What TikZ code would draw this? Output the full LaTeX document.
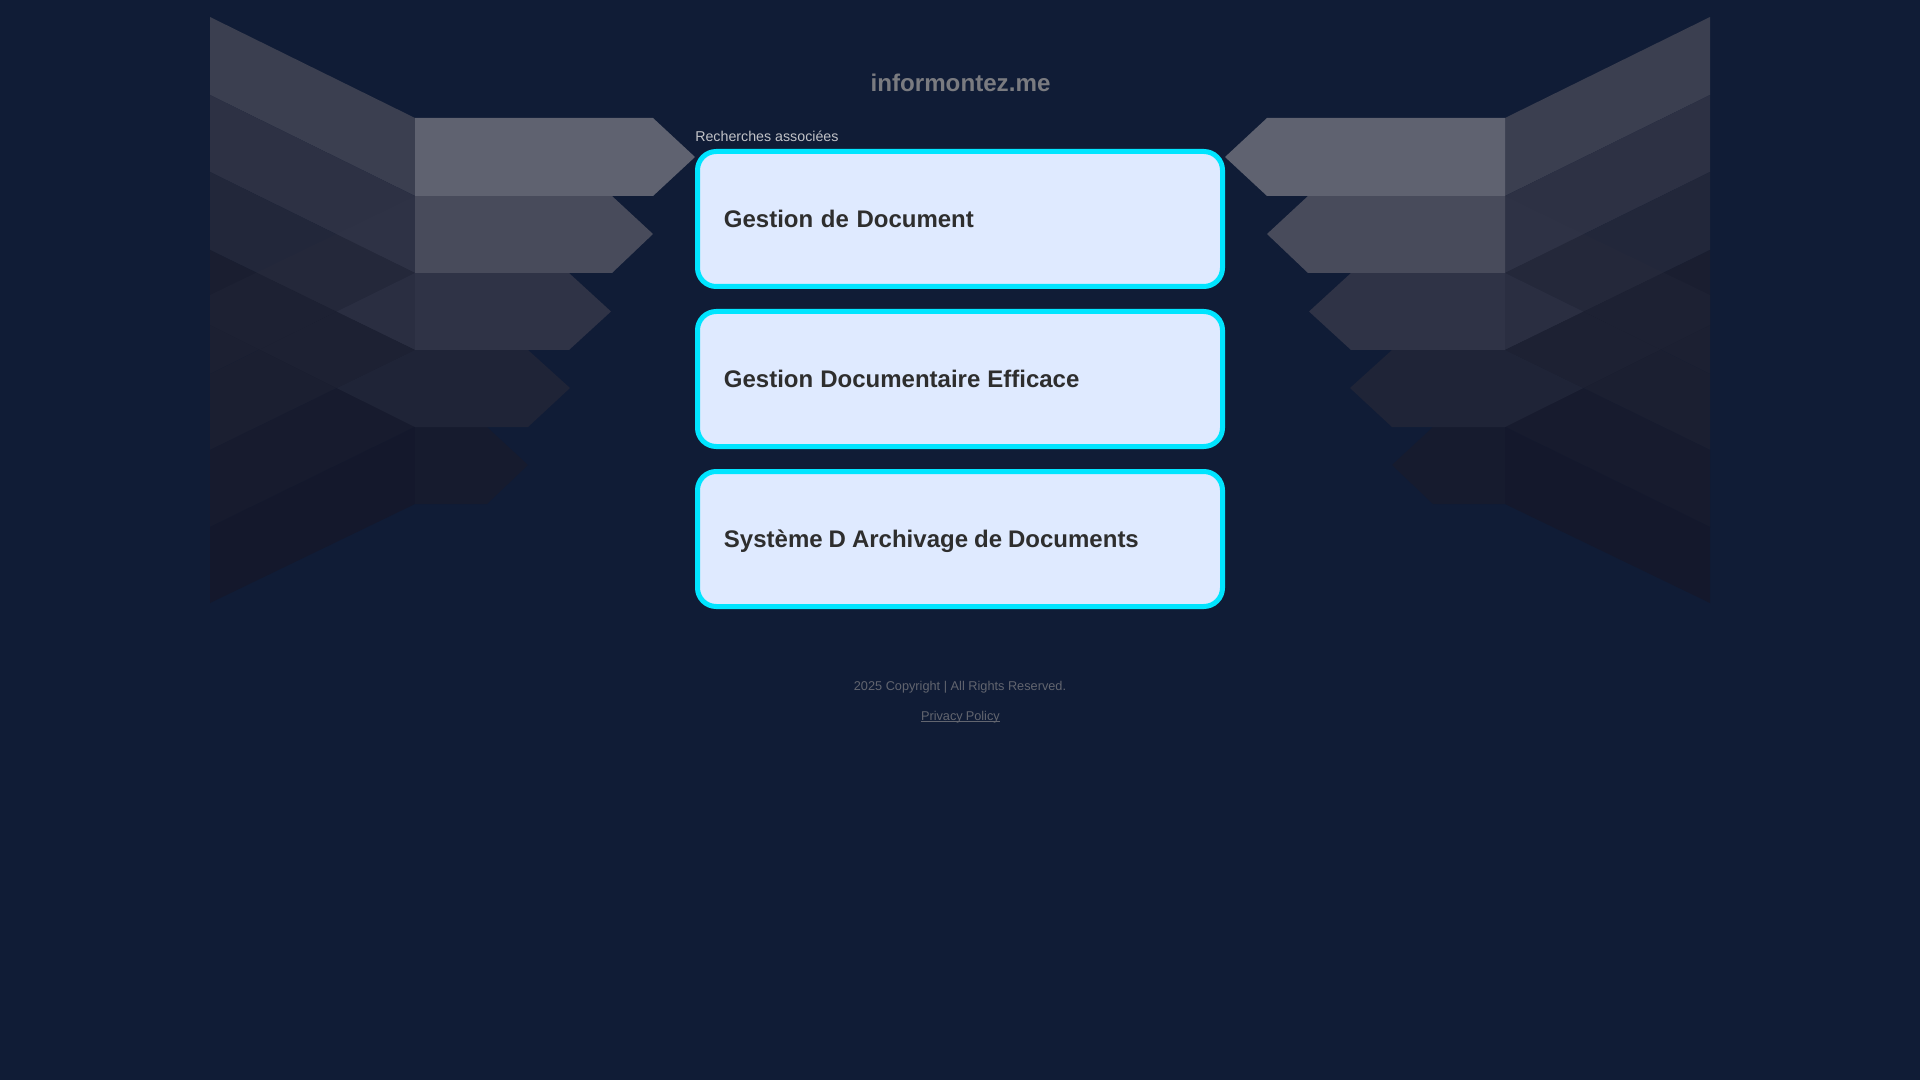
\documentclass[tikz,border=0pt]{standalone}
\usepackage{fontspec}
\setmainfont{Liberation Sans}
\definecolor{pagebg}{HTML}{101C36}
\definecolor{dOne}{HTML}{3B3F50}
\definecolor{dTwo}{HTML}{2D3144}
\definecolor{dThree}{HTML}{22273A}
\definecolor{dFour}{HTML}{1A1E30}
\definecolor{uTwo}{HTML}{1C2032}
\definecolor{uThree}{HTML}{1B1F31}
\definecolor{uFour}{HTML}{171B2E}
\definecolor{uFive}{HTML}{14182C}
\definecolor{dTwouTwo}{HTML}{2E3245}
\definecolor{dThreeuTwo}{HTML}{24283A}
\definecolor{dFouruTwo}{HTML}{1D2133}
\definecolor{dThreeuThree}{HTML}{2A2E41}
\definecolor{dFouruThree}{HTML}{1D2133}
\definecolor{dFouruFour}{HTML}{1F2437}
\definecolor{rowOne}{HTML}{5F6270}
\definecolor{rowTwo}{HTML}{484B5B}
\definecolor{rowThree}{HTML}{2F3346}
\definecolor{rowFour}{HTML}{1F2437}
\definecolor{rowFive}{HTML}{161B2E}
\definecolor{cardfill}{HTML}{DFEAFF}
\definecolor{cardline}{HTML}{00E5FF}
\definecolor{cardtext}{HTML}{2E2E2E}
\definecolor{titlecol}{HTML}{7A7B80}
\definecolor{labelcol}{HTML}{C2C3C8}
\definecolor{footcol}{HTML}{62656F}
\tikzset{
  card/.style={draw=cardline,fill=cardfill,line width=3.75pt,rounded corners=14pt,
    minimum width=393.75pt,minimum height=101.25pt,inner xsep=19.85pt,inner ysep=0pt,
    text width=354.05pt,align=left,text=cardtext,text height=13.1pt,text depth=0.2pt,
    font=\fontsize{18pt}{22pt}\selectfont\bfseries},
  foot/.style={inner sep=0pt,text=footcol,font=\fontsize{9.55pt}{12pt}\selectfont,anchor=base},
  title/.style={inner sep=0pt,text=titlecol,font=\fontsize{18.12pt}{22pt}\selectfont\bfseries,anchor=base},
  seclabel/.style={inner sep=0pt,text=labelcol,font=\fontsize{10.68pt}{13pt}\selectfont,anchor=base west}
}
\newcommand{\Done}{(210,17)--(415,118)--(415,196)--(210,95)--cycle}
\newcommand{\Dtwo}{(210,95)--(415,196)--(415,273)--(210,172)--cycle}
\newcommand{\Dthr}{(210,172)--(415,273)--(415,350)--(210,250)--cycle}
\newcommand{\Dfou}{(210,250)--(415,350)--(415,427)--(210,325)--cycle}
\newcommand{\Utwo}{(210,295)--(415,196)--(415,273)--(210,374)--cycle}
\newcommand{\Uthr}{(210,374)--(415,273)--(415,350)--(210,450)--cycle}
\newcommand{\Ufou}{(210,450)--(415,350)--(415,427)--(210,527)--cycle}
\newcommand{\Ufiv}{(210,527)--(415,427)--(415,504)--(210,603)--cycle}
\newcommand{\overlapfill}[3]{\begin{scope}\clip #1;\fill[#3] #2;\end{scope}}
\newcommand{\wingshape}{%
  \fill[uTwo] \Utwo;
  \fill[uThree] \Uthr;
  \fill[uFour] \Ufou;
  \fill[uFive] \Ufiv;
  \fill[dOne] \Done;
  \fill[dTwo] \Dtwo;
  \fill[dThree] \Dthr;
  \fill[dFour] \Dfou;
  \overlapfill{\Dtwo}{\Utwo}{dTwouTwo}
  \overlapfill{\Dthr}{\Utwo}{dThreeuTwo}
  \overlapfill{\Dfou}{\Utwo}{dFouruTwo}
  \overlapfill{\Dthr}{\Uthr}{dThreeuThree}
  \overlapfill{\Dfou}{\Uthr}{dFouruThree}
  \overlapfill{\Dfou}{\Ufou}{dFouruFour}
  \fill[rowFive] (415,427)--(487,427)--(528,465)--(487,504)--(415,504)--cycle;
  \fill[rowFour] (415,350)--(528,350)--(570,388)--(528,427)--(415,427)--cycle;
  \fill[rowThree] (415,273)--(569,273)--(611,311.5)--(569,350)--(415,350)--cycle;
  \fill[rowTwo] (415,196)--(612,196)--(653,234)--(612,273)--(415,273)--cycle;
  \fill[rowOne] (415,118)--(653,118)--(695,157)--(653,196)--(415,196)--cycle;
}
\begin{document}
\begin{tikzpicture}[x=0.75pt,y=-0.75pt]
  \useasboundingbox (0,0) rectangle (1920,1080);
  \fill[pagebg] (0,0) rectangle (1920,1080);
  \wingshape
  \begin{scope}[shift={(1920,0)},xscale=-1]
    \wingshape
  \end{scope}
  \node[title] (site) at (960.5,92) {informontez.me};
  \node[seclabel] (related) at (695,141.8) {Recherches associées};
  \node[card] (cardA) at (960,219) {\spaceskip=5.71pt\relax Gestion de Document};
  \node[card] (cardB) at (960,379) {\spaceskip=5.26pt\relax Gestion Documentaire Efficace};
  \node[card] (cardC) at (960,539) {\spaceskip=4.52pt\relax Système D Archivage de Documents};
  \node[foot] (copy) at (960,690) {\spaceskip=2.67pt\relax 2025 Copyright | All Rights Reserved.};
  \node[foot] (privacy) at (960.4,720) {\spaceskip=2.3pt\relax Privacy Policy};
  \coordinate (ulA) at ([yshift=-1.1pt]privacy.base west);
  \coordinate (ulB) at ([yshift=-1.1pt]privacy.base east);
  \draw[footcol,line width=0.75pt] (ulA) -- (ulB);
\end{tikzpicture}
\end{document}
